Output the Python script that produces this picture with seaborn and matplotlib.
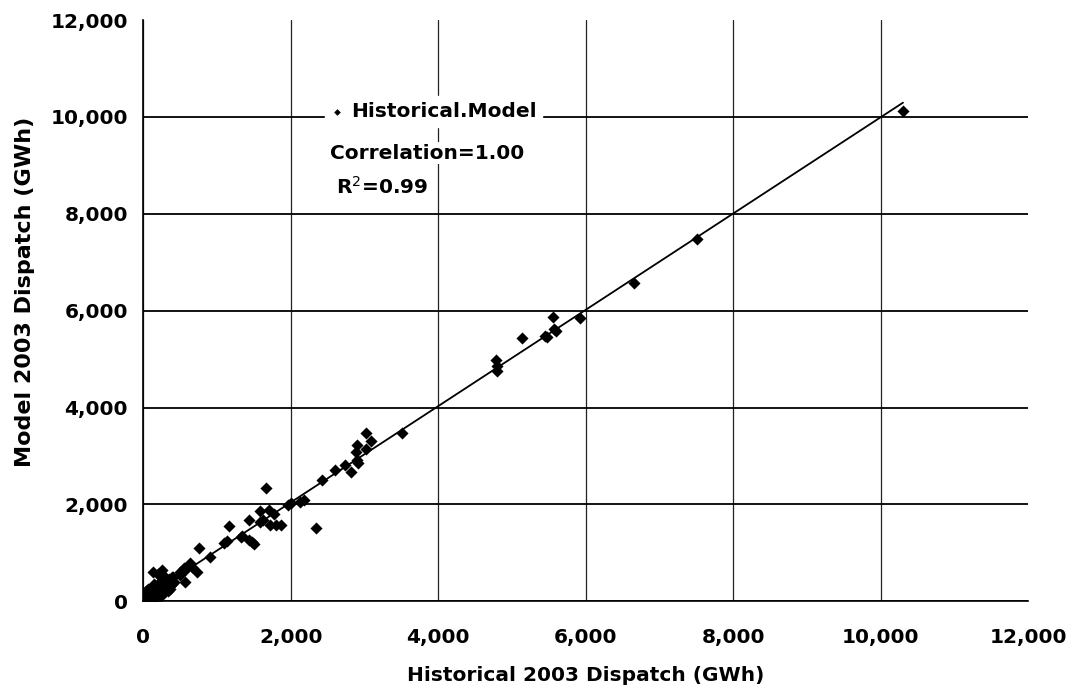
import pandas as pd
import matplotlib
matplotlib.use("Agg")
import matplotlib.pyplot as plt
import seaborn as sns
from matplotlib.ticker import FuncFormatter

# -----------------------------
# Data (GWh)
# -----------------------------

historical = [
    10300, 7510, 6650, 5920, 5560, 5570, 5600, 5440, 5480, 5140,
    4780, 4790, 4800, 3510, 3020, 3090, 2900, 2890, 3020, 2900,
    2910, 2810, 2730, 2600, 2420, 2180, 2130, 2000, 1960, 1660,
    2340, 1160, 1580, 1710, 1770, 1720, 1800, 1870, 1630, 1580,
    1440, 1320, 1470, 1500, 1130, 1090, 1340, 1430, 910, 750,
    730, 570, 660, 640, 570, 550, 500, 500, 410, 390,
    360, 220, 200, 130, 260, 300, 350, 250,
    20, 40, 60, 80, 100, 120, 30, 50, 150, 170,
    200, 220, 250, 280, 300, 320, 340, 260, 180, 140,
    110, 70, 90, 230, 270, 300, 350, 380, 400, 420,
    10, 15, 35, 60, 130, 190, 250, 200, 330, 280,
    360, 10, 5, 25, 45, 160, 240, 300, 380, 150,
]

model = [
    10130, 7480, 6570, 5850, 5870, 5620, 5580, 5480, 5450, 5440,
    4990, 4850, 4750, 3480, 3470, 3310, 3230, 3080, 3140, 2910,
    2860, 2660, 2810, 2700, 2510, 2090, 2050, 2020, 1980, 2330,
    1520, 1550, 1860, 1880, 1810, 1570, 1570, 1570, 1670, 1640,
    1670, 1330, 1220, 1190, 1240, 1200, 1340, 1260, 910, 1090,
    600, 640, 710, 780, 400, 680, 600, 540, 500, 500,
    430, 540, 570, 600, 640, 500, 450, 470,
    10, 30, 50, 40, 90, 110, 80, 120, 130, 90,
    160, 200, 230, 250, 270, 300, 280, 150, 220, 200,
    60, 150, 200, 300, 350, 380, 360, 330, 380, 400,
    120, 50, 200, 260, 300, 330, 400, 280, 220, 180,
    250, 5, 20, 25, 15, 40, 100, 200, 420, 350,
]

ticks = [0, 2000, 4000, 6000, 8000, 10000, 12000]

df = pd.DataFrame({"Historical": historical, "Model": model})

# -----------------------------
# Plot
# -----------------------------

sns.set_style("white")
plt.rcParams["font.family"] = ["DejaVu Sans"]
plt.rcParams["text.color"] = "black"
plt.rcParams["axes.labelcolor"] = "black"
plt.rcParams["xtick.color"] = "black"
plt.rcParams["ytick.color"] = "black"

fig, ax = plt.subplots(figsize=(10.69, 6.95), dpi=100)
fig.subplots_adjust(left=0.134, right=0.962, top=0.971, bottom=0.135)

sns.scatterplot(
    data=df, x="Historical", y="Model", marker="D", s=38,
    color="black", edgecolor="black", linewidth=0,
    label="Historical.Model", ax=ax, zorder=3
)
sns.regplot(
    data=df, x="Historical", y="Model", scatter=False, ci=None,
    line_kws={"color": "black", "lw": 1.3}, ax=ax
)

ax.set_xlim(0, 12000)
ax.set_ylim(0, 12000)
ax.set_xticks(ticks)
ax.set_yticks(ticks)
fmt = FuncFormatter(lambda v, p: f"{int(v):,}")
ax.xaxis.set_major_formatter(fmt)
ax.yaxis.set_major_formatter(fmt)

ax.grid(axis="y", color="black", lw=1.3)
ax.grid(axis="x", color="#222222", lw=0.9)
ax.set_axisbelow(True)
ax.xaxis.get_gridlines()[-1].set_visible(False)
ax.yaxis.get_gridlines()[-1].set_visible(False)

for side in ["top", "right"]:
    ax.spines[side].set_visible(False)
for side in ["left", "bottom"]:
    ax.spines[side].set_color("black")
    ax.spines[side].set_linewidth(1.2)

ax.tick_params(axis="both", direction="out", length=4, width=1, color="black",
               labelcolor="black", labelsize=14.5)
ax.tick_params(axis="y", pad=7)
ax.tick_params(axis="x", pad=15)
for lbl in ax.get_xticklabels() + ax.get_yticklabels():
    lbl.set_fontweight("bold")

ax.set_xlabel("Historical 2003 Dispatch (GWh)", fontsize=14.5, fontweight="bold", labelpad=14)
ax.set_ylabel("Model 2003 Dispatch (GWh)", fontsize=16, fontweight="bold")
ax.yaxis.set_label_coords(-0.122, 0.532)

leg = ax.legend(
    loc="center", bbox_to_anchor=(0.328, 0.843), frameon=True,
    prop={"weight": "bold", "size": 14.5}, markerscale=0.55,
    handlelength=0.6, handletextpad=0.4, borderpad=0.3
)
leg.get_frame().set_facecolor("white")
leg.get_frame().set_edgecolor("white")
leg.get_frame().set_alpha(1)

ax.text(0.211, 0.771, "Correlation=1.00", transform=ax.transAxes,
        fontsize=14.5, fontweight="bold", va="center", ha="left",
        bbox=dict(facecolor="white", edgecolor="none", pad=1))
ax.text(0.218, 0.713, "R$^2$=0.99", transform=ax.transAxes,
        fontsize=14.5, fontweight="bold", va="center", ha="left",
        bbox=dict(facecolor="white", edgecolor="none", pad=1))

plt.savefig("out.png", dpi=100)
